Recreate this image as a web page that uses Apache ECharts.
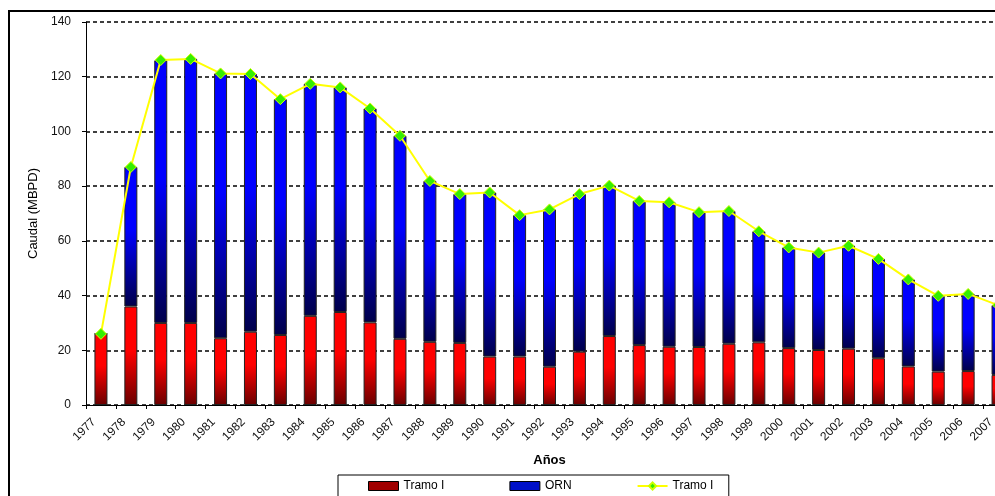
<!DOCTYPE html>
<html>
<head>
<meta charset="utf-8">
<script src="https://cdn.jsdelivr.net/npm/echarts@6/dist/echarts.min.js"></script>
<style>
html, body { margin: 0; padding: 0; background: #fff; }
#chart { width: 995px; height: 496px; }
</style>
</head>
<body>
<div id="chart"></div>
<script>
var years = ['1977','1978','1979','1980','1981','1982','1983','1984','1985','1986',
	'1987','1988','1989','1990','1991','1992','1993','1994','1995','1996',
	'1997','1998','1999','2000','2001','2002','2003','2004','2005','2006','2007'];

// Tramo I (red part of the bars)
var tramo = [26, 36, 30, 30, 24.4, 26.8, 25.6, 32.6, 34, 30.2,
	24.2, 23.1, 22.7, 17.7, 17.7, 14, 19.5, 25.2, 21.9, 21.3,
	21.2, 22.4, 22.9, 20.8, 20.1, 20.6, 17.1, 14.1, 12.2, 12.4, 11];

// ORN (blue part stacked above)
var orn = [0, 51, 96, 96.5, 96.8, 94.2, 86.2, 84.8, 82.1, 78.2,
	74.2, 58.8, 54.4, 60, 51.7, 57.5, 57.6, 55, 52.7, 52.8,
	49.3, 48.5, 40.6, 36.8, 35.6, 37.6, 36.3, 31.8, 27.7, 28.2, 25.5];

// total line (yellow with green markers)
var total = [26, 87, 126.1, 126.5, 121.2, 121, 111.8, 117.4, 116.1, 108.4,
	98.4, 81.9, 77.1, 77.7, 69.4, 71.5, 77.1, 80.2, 74.6, 74.1,
	70.5, 70.9, 63.5, 57.6, 55.7, 58.2, 53.4, 45.9, 39.9, 40.6, 36.5];

var yTicks = { min: 0, max: 140, interval: 20 };

function grad(top, bottom) {
	return new echarts.graphic.LinearGradient(0, 0, 0, 1, [
		{ offset: 0, color: top },
		{ offset: 0.45, color: top },
		{ offset: 1, color: bottom }
	]);
}

var myChart = echarts.init(document.getElementById('chart'));
var option = {
	animation: false,
	backgroundColor: '#fff',
	textStyle: { fontFamily: 'Liberation Sans, Arial, sans-serif', color: '#000' },
	graphic: [{
		type: 'rect',
		shape: { x: 9, y: 11, width: 1000, height: 500 },
		style: { fill: 'none', stroke: '#000', lineWidth: 2 },
		silent: true,
		z: -1
	}],
	grid: {
		left: 86, top: 22, bottom: 91, right: -18,
		containLabel: false,
		outerBoundsMode: 'none'
	},
	legend: {
		bottom: -6,
		left: 338,
		padding: [5, 12, 10, 30],
		borderColor: '#000',
		borderWidth: 1,
		itemWidth: 30,
		itemHeight: 9,
		itemGap: 65,
		textStyle: { fontSize: 12, color: '#000' },
		data: [
			{ name: 'Tramo I', icon: 'rect', itemStyle: { color: '#a00000', borderColor: '#000', borderWidth: 1 } },
			{ name: 'ORN', icon: 'rect', itemStyle: { color: '#0010c8', borderColor: '#000', borderWidth: 1 } },
			{ name: 'Tramo I ' }
		]
	},
	xAxis: {
		type: 'category',
		data: years,
		boundaryGap: true,
		name: 'Años',
		nameLocation: 'middle',
		nameGap: 49,
		nameTextStyle: { fontWeight: 'bold', fontSize: 13, color: '#000' },
		axisLine: { lineStyle: { color: '#000', width: 1 } },
		axisTick: { show: true, length: 4, lineStyle: { color: '#000' } },
		axisLabel: { rotate: 45, fontSize: 12, color: '#111', margin: 8, padding: [0, 10, 0, 0], interval: 0 }
	},
	yAxis: {
		type: 'value',
		min: yTicks.min,
		max: yTicks.max,
		interval: yTicks.interval,
		name: 'Caudal (MBPD)',
		nameLocation: 'middle',
		nameGap: 46,
		nameTextStyle: { fontSize: 13, color: '#000' },
		axisLine: { show: true, lineStyle: { color: '#000', width: 1 } },
		axisTick: { show: true, length: 4, lineStyle: { color: '#000' } },
		axisLabel: { fontSize: 12, color: '#111', margin: 15 },
		splitLine: { show: true, lineStyle: { color: '#000', type: [4, 3], width: 1.5 } }
	},
	series: [{
		name: 'Tramo I',
		type: 'bar',
		stack: 'q',
		barWidth: 13,
		data: tramo,
		itemStyle: { color: grad('#ff0000', '#6a0000'), borderColor: '#222', borderWidth: 1 }
	}, {
		name: 'ORN',
		type: 'bar',
		stack: 'q',
		barWidth: 13,
		data: orn,
		itemStyle: { color: grad('#0000ff', '#00004a'), borderColor: '#222', borderWidth: 1 }
	}, {
		name: 'Tramo I ',
		type: 'line',
		data: total,
		symbol: 'diamond',
		symbolSize: 11,
		lineStyle: { color: '#ffff00', width: 2 },
		itemStyle: { color: '#33ee00', borderColor: '#ccff00', borderWidth: 1 },
		z: 5
	}]
};
myChart.setOption(option);
</script>
</body>
</html>
